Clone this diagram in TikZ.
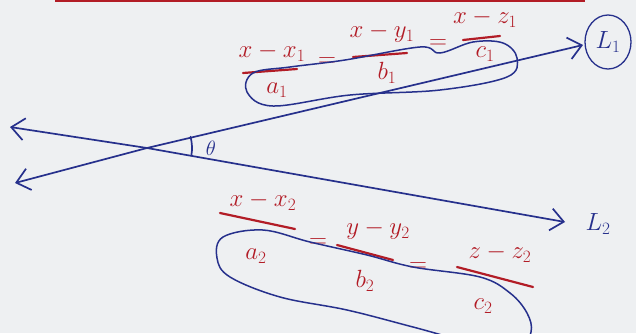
\documentclass[tikz,border=0pt]{standalone}
\usepackage{amsmath}
\usetikzlibrary{arrows.meta}
\definecolor{inkblue}{RGB}{38,48,140}
\definecolor{inkred}{RGB}{178,28,38}
\definecolor{paper}{RGB}{238,240,242}

\begin{document}
\begin{tikzpicture}[x=1pt, y=-1pt,
  ink/.style={inkblue, line width=1.7pt, line cap=round},
  barb/.style={-{Straight Barb[length=13pt,width=22pt,line width=1.7pt]}},
  redtxt/.style={text=inkred, font=\fontsize{25}{26}\selectfont, inner sep=0pt},
  fracbar/.style={inkred, line width=2.2pt, line cap=round},
  linename/.style={text=inkblue, font=\fontsize{27}{28}\selectfont, inner sep=0pt}]
  \useasboundingbox (0,0) rectangle (636,333);
  \fill[paper] (0,0) rectangle (636,333);
  \clip (0,0) rectangle (636,333);
  \draw[inkred, line width=2pt] (55,0.5) -- (585,0.5);
  \coordinate (l1s) at (15,183);
  \coordinate (l1e) at (583,45);
  \coordinate (l2s) at (10,127);
  \coordinate (l2e) at (565,222);
  \coordinate (X) at (147,148);
  \draw[ink, barb] (X) -- (l1e);
  \draw[ink, barb] (X) -- (l1s);
  \draw[ink, barb] (X) -- (l2e);
  \draw[ink, barb] (X) -- (l2s);
  \draw[ink] (X) ++(-14.5:45) arc[start angle=-14.5, end angle=9.7, radius=45];
  \node[linename, font=\fontsize{22}{24}\selectfont] (th) at (211,148) {$\theta$};
  \node[linename] (L1) at (608,42) {$L_1$};
  \draw[ink, line width=1.3pt] (L1) ellipse (23 and 27);
  \node[linename] (L2) at (598,224) {$L_2$};
  \node[redtxt] (n1) at (272,52) {$x-x_1$};
  \node[redtxt] (d1) at (277,90) {$a_1$};
  \node[redtxt] (e1) at (327,62) {$=$};
  \node[redtxt] (n2) at (382,33) {$x-y_1$};
  \node[redtxt] (d2) at (387,73) {$b_1$};
  \node[redtxt] (e2) at (438,44) {$=$};
  \node[redtxt] (n3) at (485,18) {$x-z_1$};
  \node[redtxt] (d3) at (485,54) {$c_1$};
  \draw[fracbar] (243,73) -- (297,69);
  \draw[fracbar] (353,57) -- (407,53);
  \draw[fracbar] (463,40) -- (500,36);
  \draw[ink, line width=1.5pt] plot[smooth cycle, tension=0.6] coordinates {
    (253,73) (290,67) (345,60) (420,47) (440,53) (473,42) (503,43) (517,58)
    (507,77) (440,90) (350,95) (273,106) (247,92)};
  \node[redtxt] (n4) at (263,201) {$x-x_2$};
  \node[redtxt] (d4) at (256,256) {$a_2$};
  \node[redtxt] (e3) at (318,243) {$=$};
  \node[redtxt] (n5) at (378,230) {$y-y_2$};
  \node[redtxt] (d5) at (365,281) {$b_2$};
  \node[redtxt] (e4) at (418,267) {$=$};
  \node[redtxt] (n6) at (500,253) {$z-z_2$};
  \node[redtxt] (d6) at (483,306) {$c_2$};
  \draw[fracbar] (220,213) -- (295,229);
  \draw[fracbar] (337,245) -- (393,260);
  \draw[fracbar] (457,267) -- (533,287);
  \draw[ink, line width=1.5pt] plot[smooth cycle, tension=0.6] coordinates {
    (223,237) (263,230) (310,242) (367,255) (413,267) (480,277) (510,293)
    (527,313) (531,332) (518,348) (470,342) (413,327) (347,310) (280,297)
    (230,277) (217,258)};
\end{tikzpicture}
\end{document}
